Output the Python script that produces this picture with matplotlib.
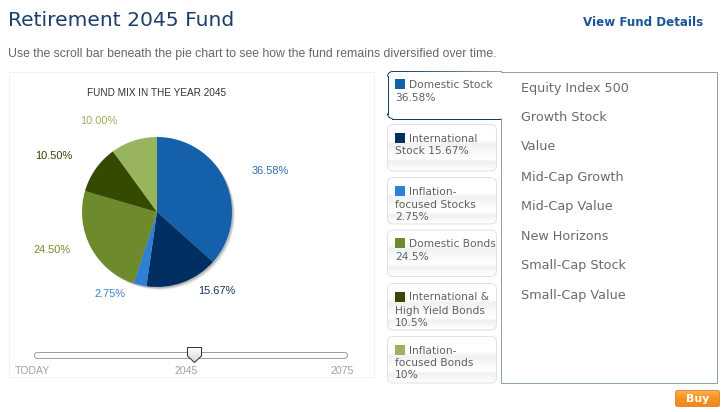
import numpy as np
import matplotlib
matplotlib.use("Agg")
import matplotlib.pyplot as plt
from matplotlib.patches import FancyBboxPatch, Rectangle, Circle, Polygon, Arc
from matplotlib.colors import LinearSegmentedColormap

# ---- data ----
categories = ["Domestic Stock", "International Stock", "Inflation-focused Stocks",
              "Domestic Bonds", "International & High Yield Bonds", "Inflation-focused Bonds"]
values = [36.58, 15.67, 2.75, 24.50, 10.50, 10.00]
pie_labels = ["36.58%", "15.67%", "2.75%", "24.50%", "10.50%", "10.00%"]
colors = ["#1460ab", "#002e61", "#2e7fd6", "#6d8a2c", "#334a00", "#98b45d"]
label_colors = ["#2a6cab", "#12305a", "#3a80cc", "#6d8a2c", "#2f4400", "#98b45d"]
tab_lines = [["Domestic Stock", "36.58%"],
             ["International", "Stock 15.67%"],
             ["Inflation-", "focused Stocks", "2.75%"],
             ["Domestic Bonds", "24.5%"],
             ["International &", "High Yield Bonds", "10.5%"],
             ["Inflation-", "focused Bonds", "10%"]]
funds = ["Equity Index 500", "Growth Stock", "Value", "Mid-Cap Growth",
         "Mid-Cap Value", "New Horizons", "Small-Cap Stock", "Small-Cap Value"]
slider_labels = ["TODAY", "2045", "2075"]

# ---- layout (pixels) ----
W, H = 727, 412
label_pos = [(270, 171), (217, 291), (110, 294), (52, 250), (54, 156), (99, 121)]
tab_tops = [71, 124.5, 177.5, 230, 283.5, 336.5]
tab_h = 46.5
fund_y = [88, 117, 147, 177, 206, 236, 266, 295]
cx, cy, r = 157, 212, 75
PX = 0.72  # one pixel line width in points

fig = plt.figure(figsize=(W / 100, H / 100), dpi=100, facecolor="white")
ax = fig.add_axes([0, 0, 1, 1])
ax.set_xlim(0, W)
ax.set_ylim(H, 0)
ax.axis("off")


def T(x, y, s, size, color, family="DejaVu Sans", ha="left", weight="normal", z=10):
    ax.text(x, y, s, fontsize=size, color=color, family=family, ha=ha, va="center",
            weight=weight, zorder=z)


def rounded(x0, y0, x1, y1, rad, **kw):
    p = FancyBboxPatch((x0 + rad, y0 + rad), x1 - x0 - 2 * rad, y1 - y0 - 2 * rad,
                       boxstyle=f"round,pad={rad},rounding_size={rad}", **kw)
    ax.add_patch(p)
    return p


# header
T(8, 20.5, "Retirement 2045 Fund", 14.6, "#1d3f6b")
T(703, 22, "View Fund Details", 8.55, "#1c5596", ha="right", weight="bold")
T(8, 54, "Use the scroll bar beneath the pie chart to see how the fund remains diversified over time.",
  8.86, "#666666", family="Liberation Sans")

# left card
ax.add_patch(Rectangle((8.5, 71.5), 365.5, 305.5, fc="white", ec="#f2f2f2", lw=PX, zorder=1))
T(157, 93, "FUND MIX IN THE YEAR 2045", 7.2, "#333333", family="Liberation Sans", ha="center")

# pie shadow and pie
for off, a in [(3.0, 0.07), (2.2, 0.14), (1.4, 0.25)]:
    ax.add_patch(Circle((cx + off, cy + off), r, fc="#555555", ec="none", alpha=a, zorder=2))
pie_ax = fig.add_axes([(cx - r) / W, 1 - (cy + r) / H, 2 * r / W, 2 * r / H], zorder=3)
pie_ax.pie(values, colors=colors, startangle=90, counterclock=False, radius=1,
           wedgeprops=dict(linewidth=0))
pie_ax.set_xlim(-1, 1)
pie_ax.set_ylim(-1, 1)
pie_ax.patch.set_alpha(0)

for (x, y), s, c in zip(label_pos, pie_labels, label_colors):
    T(x, y, s, 7.9, c, family="Liberation Sans", ha="center")

# slider
rounded(34.5, 352.5, 347.5, 358.5, 3, fc="white", ec="#a0a0a0", lw=PX, zorder=4)
grad = np.linspace(0, 1, 16)[:, None]
handle_pts = [(187.5, 347.5), (201.5, 347.5), (201.5, 356), (194.5, 362.5), (187.5, 356)]
handle = Polygon(handle_pts, closed=True, fc="none", ec="#333333", lw=PX, zorder=6)
ax.add_patch(handle)
im = ax.imshow(grad, extent=(187.5, 201.5, 362.5, 347.5), aspect="auto", zorder=5,
               cmap=LinearSegmentedColormap.from_list("h", ["#ffffff", "#d8d8d8"]))
im.set_clip_path(handle)
T(15, 371, slider_labels[0], 7.6, "#a0a0a0", family="Liberation Sans")
T(186, 371, slider_labels[1], 7.6, "#a0a0a0", family="Liberation Sans", ha="center")
T(342, 371, slider_labels[2], 7.6, "#a0a0a0", family="Liberation Sans", ha="center")

# right panel
ax.add_patch(Rectangle((500.5, 71.5), 216.6, 311.6, fc="white", ec="#8ea2ae", lw=PX, zorder=2))

# tabs
tab_cmap = LinearSegmentedColormap.from_list(
    "t", [(0, "#ffffff"), (0.34, "#ffffff"), (0.42, "#f1f1f1"), (0.62, "#fafafa"),
          (0.74, "#ffffff"), (0.82, "#f0f0f0"), (0.92, "#fafafa"), (1, "#ffffff")])
tab_grad = np.linspace(0, 1, 64)[:, None]
DARK = "#14405f"
for i, (top, lines, col) in enumerate(zip(tab_tops, tab_lines, colors)):
    if i == 0:
        ax.add_patch(Rectangle((392, 72.5), 110, 45.5, fc="white", ec="none", zorder=3))
        ax.plot([387.5, 387.5], [76, 114], color=DARK, lw=PX, zorder=4)
        ax.plot([392, 500], [118.5, 118.5], color=DARK, lw=PX, zorder=4)
        ax.add_patch(Arc((392.5, 113.5), 10, 10, theta1=90, theta2=180, color=DARK, lw=PX, zorder=4))
        ax.add_patch(Arc((392.5, 76.5), 10, 10, theta1=180, theta2=270, color=DARK, lw=PX, zorder=4))
        ramp = np.linspace(0, 1, 128)[None, :]
        ax.imshow(ramp, extent=(392, 502, 72, 71), aspect="auto", zorder=4,
                  cmap=LinearSegmentedColormap.from_list("b", [DARK, "#8ea2ae"]))
    else:
        p = rounded(387.5, top, 496.5, top + tab_h, 6, fc="none", ec="#e2e2e2", lw=PX, zorder=4)
        g = ax.imshow(tab_grad, extent=(387.5, 496.5, top + tab_h, top), aspect="auto",
                      zorder=3, cmap=tab_cmap)
        g.set_clip_path(p)
    sq_top = top + 8 if i else 79
    ax.add_patch(Rectangle((395, sq_top), 10, 10, fc=col, ec="none", zorder=6))
    yy = sq_top + 6
    for j, line in enumerate(lines):
        y = yy + (0, 13, 25)[j]
        T(409 if j == 0 else 395, y, line, 7.7, "#606060")

# fund list
for y, s in zip(fund_y, funds):
    T(521, y, s, 9.15, "#6a6a6a")

# buy button
btn = rounded(675.5, 390.5, 719.5, 406.5, 2, fc="none", ec="#e8892a", lw=PX, zorder=4)
g = ax.imshow(np.linspace(0, 1, 16)[:, None], extent=(675.5, 719.5, 406.5, 390.5), aspect="auto",
              zorder=3, cmap=LinearSegmentedColormap.from_list("o", ["#fbb25a", "#f7941e", "#ee8a1e"]))
g.set_clip_path(btn)
T(697.5, 398.5, "Buy", 7.9, "white", ha="center", weight="bold")

ax.set_xlim(0, W)
ax.set_ylim(H, 0)
fig.savefig("out.png", dpi=100, facecolor="white")
